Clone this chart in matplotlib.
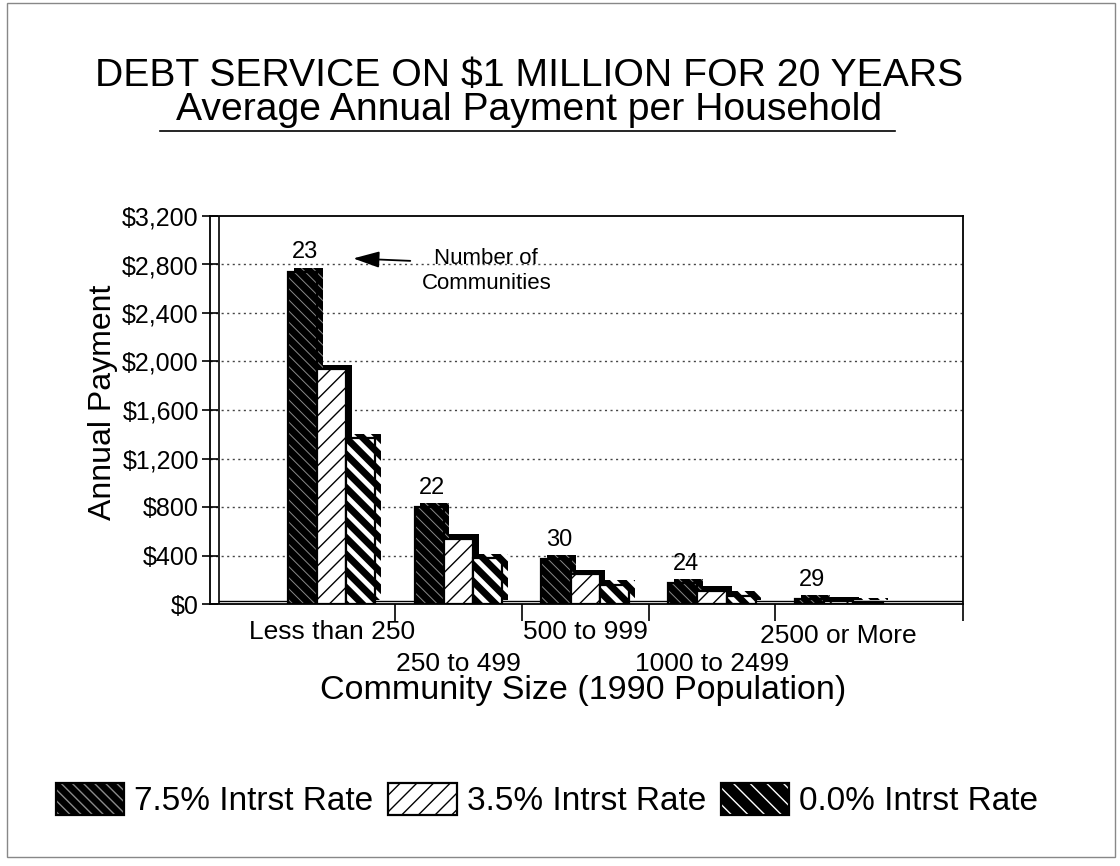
import matplotlib
matplotlib.use("Agg")
import matplotlib.pyplot as plt
import matplotlib.patheffects as pe
import matplotlib.transforms as mtrans
from matplotlib.patches import Patch, Rectangle
from matplotlib.lines import Line2D
from matplotlib.legend_handler import HandlerTuple
import numpy as np

# ---- data ----
categories = ["Less than 250", "250 to 499", "500 to 999", "1000 to 2499", "2500 or More"]
communities = [23, 22, 30, 24, 29]
rate_75 = [2740, 800, 370, 170, 40]
rate_35 = [1940, 540, 250, 110, 25]
rate_00 = [1370, 380, 160, 70, 15]
series_names = ["7.5% Intrst Rate", "3.5% Intrst Rate", "0.0% Intrst Rate"]
yticks = [0, 400, 800, 1200, 1600, 2000, 2400, 2800, 3200]
ytick_labels = ["$0", "$400", "$800", "$1,200", "$1,600", "$2,000", "$2,400", "$2,800", "$3,200"]
title_lines = ["DEBT SERVICE ON $1 MILLION FOR 20 YEARS", "Average Annual Payment per Household"]

plt.rcParams['font.family'] = ['Liberation Sans', 'DejaVu Sans']
plt.rcParams['hatch.linewidth'] = 1.0

fig = plt.figure(figsize=(11.2, 8.66), dpi=100)
ax = fig.add_axes([210/1120, 1-604/866, (963-210)/1120, (604-216)/866])

x = np.arange(len(categories))
w = 0.23
styles = [
    dict(face="black", hatch_col="#8a8a8a", hatch="\\\\\\", hlw=0.7),
    dict(face="white", hatch_col="black", hatch="//", hlw=1.0),
    dict(face="black", hatch_col="white", hatch="\\\\", hlw=3.5),
]
series = [rate_75, rate_35, rate_00]
shadow = [pe.SimplePatchShadow(offset=(4, 3), shadow_rgbFace="black", alpha=1.0), pe.Normal()]

legend_handles = []
for i, (vals, st) in enumerate(zip(series, styles)):
    pos = x + (i - 1) * w
    with plt.rc_context({'hatch.linewidth': st["hlw"]}):
        fills = ax.bar(pos, vals, width=w, color=st["face"], edgecolor=st["hatch_col"],
                       hatch=st["hatch"], linewidth=0, zorder=3 + i)
        for p in fills:
            if hasattr(p, "set_hatch_linewidth"):
                p.set_hatch_linewidth(st["hlw"])
            p.set_path_effects(shadow)
        ax.bar(pos, vals, width=w, fill=False, edgecolor="black", linewidth=1.6, zorder=3.5 + i)
        hp = Patch(facecolor=st["face"], edgecolor=st["hatch_col"], hatch=st["hatch"], linewidth=0)
        if hasattr(hp, "set_hatch_linewidth"):
            hp.set_hatch_linewidth(st["hlw"])
    ho = Patch(fill=False, edgecolor="black", linewidth=1.6)
    legend_handles.append((hp, ho))

# community counts above first bar of each group
for xi, v, c in zip(x - w, rate_75, communities):
    ax.annotate(str(c), (xi, v), xytext=(2, 6), textcoords="offset points",
                ha="center", va="bottom", fontsize=17, zorder=10)

# arrow annotation
ax.annotate("", xy=(0.17, 2850), xytext=(0.62, 2830),
            arrowprops=dict(arrowstyle="-|>,head_length=1.6,head_width=0.5", lw=1.3,
                            color="black", shrinkA=0, shrinkB=0), zorder=10)
ax.text(1.22, 2750, "Number of\nCommunities", ha="center", va="center", fontsize=16,
        linespacing=1.25, zorder=10)

ax.set_xlim(-0.96, 4.98)
ax.set_ylim(0, 3200)
ax.set_yticks(yticks)
ax.set_yticklabels(ytick_labels, fontsize=18)
ax.tick_params(axis="y", direction="inout", length=12, width=1.2, pad=2)
ax.set_xticks([0.5, 1.5, 2.5, 3.5, 4.98])
ax.set_xticklabels([])
ax.tick_params(axis="x", direction="out", length=12, width=1.2)
for yv in yticks[1:-1]:
    ax.axhline(yv, color="#444444", linestyle=(0, (1.5, 2.5)), linewidth=1.0, zorder=1)
for s in ax.spines.values():
    s.set_linewidth(1.3)
# back wall line (3D look)
ax.axvline(-0.89, color="black", linewidth=1.2, zorder=2)
ax.axhline(25, xmin=0.012, xmax=1.0, color="black", linewidth=1.0, zorder=2)

# staggered category labels
trans = mtrans.blended_transform_factory(ax.transData, ax.transAxes)
for i, lab in enumerate(categories):
    ypix = 28 if i % 2 == 0 else 60
    if i == 4:
        ypix = 32
    ax.annotate(lab, (i, 0), xycoords=trans, xytext=(0, -ypix * 0.72), textcoords="offset points",
                ha="center", va="center", fontsize=19, annotation_clip=False)

fig.text(103/1120, 1-402/866, "Annual Payment", rotation=90, ha="center", va="center", fontsize=23)
fig.text(583/1120, 1-690/866, "Community Size (1990 Population)", ha="center", va="center", fontsize=24.5)

fig.text(529/1120, 1-93/866, "\n".join(title_lines), ha="center", va="center",
         multialignment="center", fontsize=28.2, linespacing=0.9)
fig.add_artist(Line2D([160/1120, 895/1120], [1-131/866, 1-131/866], transform=fig.transFigure,
                      color="black", linewidth=1.2))

fig.legend(legend_handles, series_names, loc="center", bbox_to_anchor=(547/1120, 1-800/866),
           ncol=3, frameon=False, fontsize=24, handlelength=2.05, handleheight=1.1,
           handletextpad=0.3, columnspacing=0.45,
           handler_map={tuple: HandlerTuple(ndivide=1, pad=0)})

fig.add_artist(Rectangle((7/1120, 1-857/866), (1115-7)/1120, (857-3)/866, transform=fig.transFigure,
                         fill=False, edgecolor="#888888", linewidth=1.0))

fig.savefig("out.png", dpi=100)
